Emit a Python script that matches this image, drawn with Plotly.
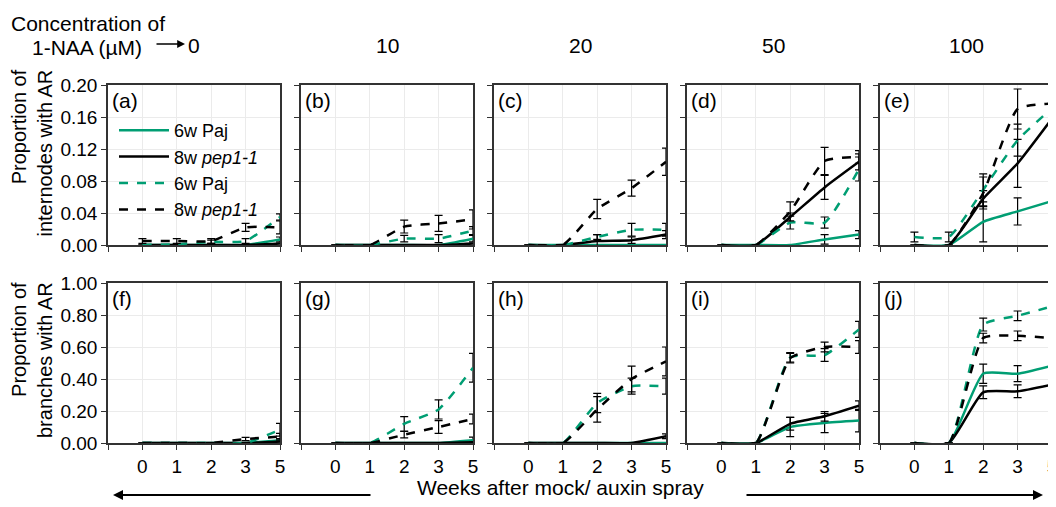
import plotly.graph_objects as go

# weeks after spray (tick labels) and 1-NAA concentrations (one column each)
weeks = ["0", "1", "2", "3", "5"]
concentrations = ["0", "10", "20", "50", "100"]
letters_top = ["(a)", "(b)", "(c)", "(d)", "(e)"]
letters_bottom = ["(f)", "(g)", "(h)", "(i)", "(j)"]

# proportion of internodes with AR, one row per concentration
int_paj_solid = [[0, 0, 0, 0, 0.007],
                 [0, 0, 0, 0, 0.008],
                 [0, 0, 0, 0, 0],
                 [0, 0, 0, 0.007, 0.013],
                 [0, 0, 0.029, 0.042, 0.055]]
int_pep_solid = [[0, 0, 0, 0, 0.002],
                 [0, 0, 0, 0, 0.002],
                 [0, 0, 0.005, 0.006, 0.013],
                 [0, 0, 0.035, 0.072, 0.104],
                 [0, 0, 0.058, 0.102, 0.158]]
int_paj_dash = [[0, 0.001, 0.004, 0.005, 0.035],
                [0, 0, 0.008, 0.008, 0.018],
                [0, 0, 0.010, 0.019, 0.019],
                [0, 0, 0.028, 0.028, 0.095],
                [0.01, 0.01, 0.069, 0.131, 0.171]]
int_pep_dash = [[0.005, 0.005, 0.005, 0.022, 0.022],
                [0, 0, 0.023, 0.027, 0.032],
                [0, 0, 0.045, 0.071, 0.104],
                [0, 0, 0.042, 0.105, 0.110],
                [0, 0, 0.065, 0.170, 0.177]]

# error bars (internodes)
int_paj_solid_err = [[0, 0, 0, 0, 0.003],
                     [0, 0, 0, 0, 0.004],
                     [0, 0, 0, 0, 0],
                     [0, 0, 0, 0.006, 0.005],
                     [0, 0, 0.025, 0.017, 0.015]]
int_pep_solid_err = [[0, 0, 0, 0, 0],
                     [0, 0, 0, 0, 0],
                     [0, 0, 0.008, 0.004, 0.005],
                     [0, 0, 0.005, 0.015, 0.010],
                     [0, 0, 0.010, 0.030, 0.015]]
int_paj_dash_err = [[0, 0, 0.002, 0.003, 0.004],
                    [0, 0, 0.004, 0.005, 0.005],
                    [0, 0, 0.003, 0.008, 0.008],
                    [0, 0, 0.008, 0.007, 0.015],
                    [0.006, 0.006, 0.020, 0.020, 0.010]]
int_pep_dash_err = [[0.003, 0.003, 0.003, 0.005, 0.008],
                    [0, 0, 0.008, 0.010, 0.012],
                    [0, 0, 0.012, 0.010, 0.017],
                    [0, 0, 0.012, 0.017, 0.008],
                    [0, 0, 0.020, 0.025, 0.010]]

# proportion of branches with AR
br_paj_solid = [[0, 0, 0, 0, 0.017],
                [0, 0, 0, 0, 0.017],
                [0, 0, 0, 0, 0],
                [0, 0, 0.10, 0.125, 0.14],
                [0, 0, 0.433, 0.433, 0.483]]
br_pep_solid = [[0, 0, 0, 0, 0.01],
                [0, 0, 0, 0, 0.005],
                [0, 0, 0, 0, 0.042],
                [0, 0, 0.12, 0.167, 0.233],
                [0, 0, 0.317, 0.323, 0.365]]
br_paj_dash = [[0, 0, 0, 0, 0.083],
               [0, 0, 0.12, 0.21, 0.47],
               [0, 0, 0.25, 0.355, 0.355],
               [0, 0, 0.535, 0.55, 0.71],
               [0, 0, 0.74, 0.795, 0.854]]
br_pep_dash = [[0, 0, 0, 0.025, 0.04],
               [0, 0, 0.052, 0.10, 0.15],
               [0, 0, 0.21, 0.40, 0.51],
               [0, 0, 0.53, 0.60, 0.60],
               [0, 0, 0.656, 0.67, 0.656]]

br_paj_solid_err = [[0, 0, 0, 0, 0.01],
                    [0, 0, 0, 0, 0.02],
                    [0, 0, 0, 0, 0],
                    [0, 0, 0.06, 0.06, 0.07],
                    [0, 0, 0.06, 0.05, 0.06]]
br_pep_solid_err = [[0, 0, 0, 0, 0],
                    [0, 0, 0, 0, 0],
                    [0, 0, 0, 0, 0.015],
                    [0, 0, 0.04, 0.03, 0.03],
                    [0, 0, 0.04, 0.04, 0.04]]
br_paj_dash_err = [[0, 0, 0, 0, 0.04],
                   [0, 0, 0.045, 0.06, 0.09],
                   [0, 0, 0.06, 0.05, 0.05],
                   [0, 0, 0.03, 0.04, 0.05],
                   [0, 0, 0.04, 0.03, 0.03]]
br_pep_dash_err = [[0, 0, 0, 0.01, 0.02],
                   [0, 0, 0.02, 0.04, 0.03],
                   [0, 0, 0.08, 0.08, 0.09],
                   [0, 0, 0.03, 0.03, 0.04],
                   [0, 0, 0.03, 0.03, 0.03]]

GREEN = "#009E73"
FONT = "Liberation Sans, Arial, sans-serif"
W, H = 1056, 507
OFF = 8  # the page body adds an 8px margin round the figure

# pixel layout of the panels (page pixels)
lefts = [108, 301, 494, 687, 880]
pw = 172
rows = [(85, 245), (283, 443)]

# style of the four series: name, colour, dash
styles = [("6w Paj", GREEN, "solid"),
          ("8w <i>pep1-1</i>", "black", "solid"),
          ("6w Paj", GREEN, "dash"),
          ("8w <i>pep1-1</i>", "black", "dash")]

top_sets = [(int_paj_solid, int_paj_solid_err), (int_pep_solid, int_pep_solid_err),
            (int_paj_dash, int_paj_dash_err), (int_pep_dash, int_pep_dash_err)]
bottom_sets = [(br_paj_solid, br_paj_solid_err), (br_pep_solid, br_pep_solid_err),
               (br_paj_dash, br_paj_dash_err), (br_pep_dash, br_pep_dash_err)]

xpos = list(range(len(weeks)))


def px(x):
    return (x - OFF) / W


def py(y):
    return 1 - (y - OFF) / H


def nz(vals):
    return [v if v else None for v in vals]


def txt(size):
    return dict(size=size, family=FONT, color="black")


fig = go.Figure()
layout = {}
n = 0
for r, sets in enumerate([top_sets, bottom_sets]):
    for c in range(len(concentrations)):
        n += 1
        xa = "x" if n == 1 else "x%d" % n
        ya = "y" if n == 1 else "y%d" % n
        for (name, color, dash), (vals, errs) in zip(styles, sets):
            fig.add_trace(go.Scatter(
                x=xpos, y=vals[c], xaxis=xa, yaxis=ya,
                mode="lines", name=name, showlegend=(n == 1),
                line=dict(color=color, width=2.5, dash=dash,
                          shape="spline", smoothing=0.5),
                error_y=dict(type="data", array=nz(errs[c]), visible=True,
                             color="black", thickness=1.2, width=4),
            ))
        top, bot = rows[r]
        left = lefts[c]
        layout["xaxis" if n == 1 else "xaxis%d" % n] = dict(
            domain=[px(left), min(px(left + pw), 1)], anchor=ya,
            range=[-1, len(weeks) - 1], automargin=False,
            tickvals=list(range(-1, len(weeks))),
            ticktext=[""] + weeks, showticklabels=(r == 1),
            ticklabeloverflow="allow",
            ticks="outside", ticklen=5, tickcolor="#333",
            showline=True, linecolor="#333", linewidth=1.5, mirror=True,
            showgrid=True, gridcolor="#ebebeb", zeroline=False,
            tickfont=txt(19),
        )
        layout["yaxis" if n == 1 else "yaxis%d" % n] = dict(
            domain=[py(bot), py(top)], anchor=xa,
            range=[0, 0.2] if r == 0 else [0, 1], automargin=False,
            dtick=0.04 if r == 0 else 0.2, tickformat=".2f",
            showticklabels=(c == 0),
            ticks="outside", ticklen=5, tickcolor="#333",
            showline=True, linecolor="#333", linewidth=1.5, mirror=True,
            showgrid=True, gridcolor="#ebebeb", zeroline=False,
            tickfont=txt(19),
        )

annotations = []
for r, letters in enumerate([letters_top, letters_bottom]):
    for c, lab in enumerate(letters):
        annotations.append(dict(
            text=lab, x=px(lefts[c] + 2), y=py(rows[r][0] + 15),
            xref="paper", yref="paper", xanchor="left", yanchor="middle",
            showarrow=False, font=txt(21)))

for c, conc in enumerate(concentrations):
    annotations.append(dict(
        text=conc, x=px(lefts[c] + pw / 2), y=py(45),
        xref="paper", yref="paper", xanchor="center", yanchor="middle",
        showarrow=False, font=txt(21)))

annotations += [
    dict(text="Concentration of", x=px(9), y=py(23), xref="paper", yref="paper",
         xanchor="left", yanchor="middle", showarrow=False, font=txt(21)),
    dict(text="1-NAA (µM)", x=px(30), y=py(48), xref="paper", yref="paper",
         xanchor="left", yanchor="middle", showarrow=False, font=txt(21)),
    dict(text="", x=px(185), y=py(44), xref="paper", yref="paper",
         showarrow=True, ax=-30, ay=0, arrowhead=2, arrowsize=1.2,
         arrowwidth=1.3, arrowcolor="black"),
    dict(text="Proportion of<br>internodes with AR", x=px(32), y=py(68),
         xref="paper", yref="paper", xanchor="center", yanchor="top",
         align="right", textangle=-90, showarrow=False, font=txt(20)),
    dict(text="Proportion of<br>branches with AR", x=px(32), y=py(280),
         xref="paper", yref="paper", xanchor="center", yanchor="top",
         align="right", textangle=-90, showarrow=False, font=txt(20)),
    dict(text="Weeks after mock/ auxin spray", x=px(560), y=py(487),
         xref="paper", yref="paper", xanchor="center", yanchor="middle",
         showarrow=False, font=txt(21)),
    dict(text="", x=px(113), y=py(495), xref="paper", yref="paper",
         showarrow=True, ax=259, ay=0, arrowhead=2, arrowsize=1,
         arrowwidth=2, arrowcolor="black"),
    dict(text="", x=px(1043), y=py(495), xref="paper", yref="paper",
         showarrow=True, ax=-298, ay=0, arrowhead=2, arrowsize=1,
         arrowwidth=2, arrowcolor="black"),
]

fig.update_layout(
    width=W, height=H,
    margin=dict(l=0, r=0, t=0, b=0, autoexpand=False),
    paper_bgcolor="white", plot_bgcolor="white",
    font=txt(19),
    showlegend=True,
    legend=dict(x=px(114), y=py(112), xanchor="left", yanchor="top",
                bgcolor="rgba(0,0,0,0)", itemwidth=50, tracegroupgap=0,
                font=txt(18)),
    annotations=annotations,
    **layout,
)

fig.write_html("out.html")
